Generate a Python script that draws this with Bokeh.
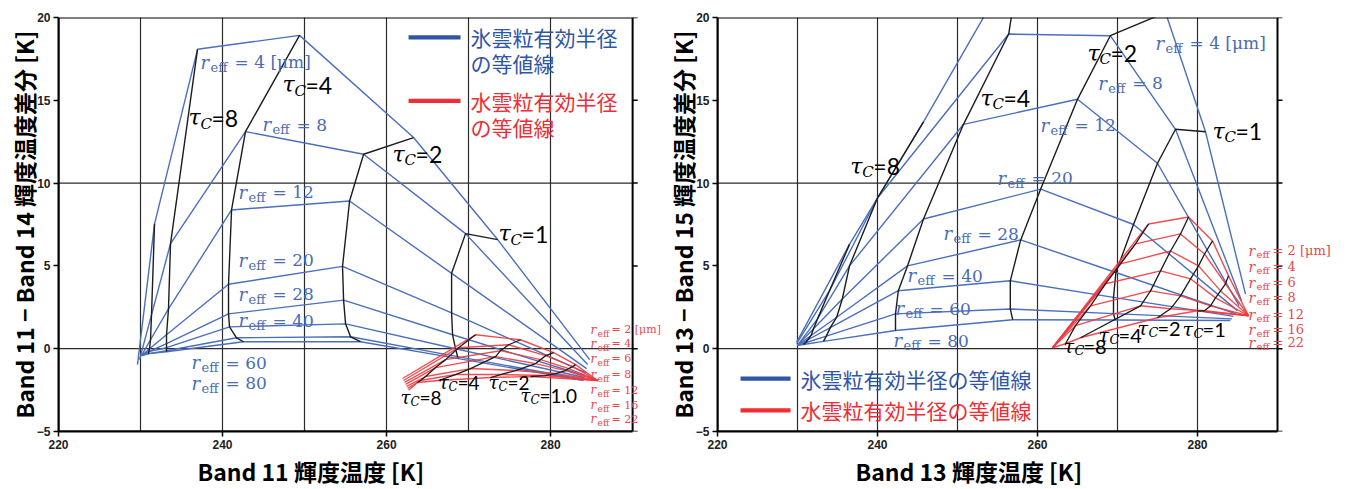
from bokeh.plotting import figure
from bokeh.layouts import row
from bokeh.models import (Range1d, FixedTicker, LabelSet, ColumnDataSource, BoxAnnotation, Label,
                          Title)
from bokeh.core.properties import value
from bokeh.embed import file_html
from bokeh.resources import INLINE

BLUE = "#4a6fbd"
BLUE_TXT = "#4a6cb5"
RED = "#ee3a3f"
RED_TXT = "#e8474c"
BLACK = "#1c1c1c"

X_TICKS = [220, 240, 260, 280]
Y_TICKS = [-5, 0, 5, 10, 15, 20]
X_GRID = [230, 240, 250, 260, 270, 280]
Y_GRID = [0, 10]
X_MIN, X_MAX, Y_MIN, Y_MAX = 220, 290, -5, 20

# Lookup-table nodes: opaque limit, tau_C = 16, 8, 4, 2, 1, clear-sky limit
ICE_R = [4, 8, 12, 20, 28, 40, 60, 80]
ICE_TAU_COLS = [1, 2, 3, 4, 5]          # columns drawn as tau_C isolines

# Band 11 vs Band 11 - Band 14 (ice)
b11_ice_x = {
    4:  [229.63, 231.71, 236.95, 249.39, 263.29, 273.54, 284.76],
    8:  [229.88, 231.34, 233.66, 242.80, 257.20, 269.63, 284.51],
    12: [230.12, 231.22, 233.41, 241.10, 255.49, 267.93, 284.39],
    20: [230.12, 231.10, 233.17, 240.73, 254.63, 267.93, 284.27],
    28: [230.12, 231.00, 233.17, 240.73, 254.76, 268.05, 284.15],
    40: [230.12, 231.00, 233.17, 240.85, 255.00, 268.41, 284.15],
    60: [230.12, 231.00, 233.17, 241.71, 255.61, 268.66, 284.02],
    80: [230.12, 231.00, 233.17, 242.56, 256.83, 268.78, 284.02],
}
b11_ice_y = {
    4:  [-0.96, 7.54, 18.08, 18.92, 12.75, 6.59, -0.66],
    8:  [-0.66, 2.04, 6.35, 13.11, 11.74, 6.95, -0.96],
    12: [-0.42, 0.54, 2.40, 8.38, 8.92, 4.55, -1.20],
    20: [-0.42, 0.00, 0.84, 3.89, 4.97, 2.16, -1.44],
    28: [-0.42, -0.18, 0.30, 2.10, 2.93, 0.84, -1.62],
    40: [-0.42, -0.18, 0.06, 1.32, 1.50, 0.00, -1.74],
    60: [-0.42, -0.30, -0.12, 0.66, 0.72, -0.48, -1.86],
    80: [-0.42, -0.30, -0.18, 0.42, 0.42, -0.60, -1.92],
}

# Band 13 vs Band 13 - Band 15 (ice); some nodes lie above the 20 K frame
b13_ice_x = {
    4:  [229.9, 236.5, 245.75, 258.0, 276.0, 281.0, 286.0],
    8:  [229.9, 234.0, 240.0, 256.4, 269.1, 277.25, 285.5],
    12: [230.0, 232.5, 236.5, 250.75, 265.0, 275.0, 285.2],
    20: [230.0, 232.0, 235.6, 245.75, 260.4, 272.0, 285.0],
    28: [230.0, 231.7, 234.9, 243.75, 257.9, 269.8, 284.8],
    40: [230.0, 231.3, 234.1, 242.6, 256.6, 269.5, 284.5],
    60: [230.0, 231.0, 233.6, 242.25, 256.6, 269.5, 284.3],
    80: [230.0, 230.75, 233.25, 242.25, 256.9, 269.7, 284.1],
}
b13_ice_y = {
    4:  [0.4, 6.3, 13.7, 24.0, 20.3, 13.1, 3.3],
    8:  [0.3, 3.5, 9.1, 19.0, 18.9, 13.25, 2.9],
    12: [0.2, 1.8, 5.0, 13.55, 15.06, 11.2, 2.6],
    20: [0.2, 1.2, 3.0, 7.83, 9.64, 7.5, 2.3],
    28: [0.2, 0.8, 1.9, 5.0, 6.57, 4.6, 2.1],
    40: [0.2, 0.54, 1.27, 3.5, 4.1, 3.1, 1.95],
    60: [0.2, 0.36, 0.76, 2.1, 2.4, 2.12, 1.8],
    80: [0.2, 0.25, 0.44, 1.1, 1.75, 1.73, 1.7],
}

# Water nodes: opaque limit, tau_C = 8, 4, 2, 1, clear-sky limit
WATER_R = [2, 4, 6, 8, 12, 16, 22]
WATER_TAU_COLS = [1, 2, 3, 4]

b11_wat_x = {
    2:  [261.95, 270.85, 276.34, 280.37, 283.05, 285.73],
    4:  [262.07, 268.78, 274.88, 279.39, 282.68, 285.73],
    6:  [262.20, 267.20, 273.90, 278.78, 282.20, 285.73],
    8:  [262.32, 265.98, 273.29, 278.17, 281.83, 285.73],
    12: [262.44, 264.76, 270.24, 275.73, 280.61, 285.73],
    16: [262.56, 264.15, 268.41, 273.90, 279.39, 285.73],
    22: [262.68, 263.78, 266.34, 272.68, 277.56, 285.73],
}
b11_wat_y = {
    2:  [-1.80, 0.84, 0.54, -0.24, -0.96, -1.92],
    4:  [-1.92, 0.06, 0.24, -0.42, -1.08, -1.92],
    6:  [-2.04, -0.66, -0.12, -0.66, -1.20, -1.92],
    8:  [-2.16, -1.14, -0.48, -0.90, -1.32, -1.92],
    12: [-2.28, -1.68, -1.20, -1.32, -1.50, -1.92],
    16: [-2.40, -1.92, -1.56, -1.56, -1.62, -1.92],
    22: [-2.51, -2.04, -1.92, -1.74, -1.68, -1.92],
}

b13_wat_x = {
    2:  [261.88, 273.88, 278.88, 281.88, 283.88, 286.38],
    4:  [261.88, 272.25, 277.88, 280.88, 283.50, 286.38],
    6:  [261.88, 270.38, 276.63, 280.13, 282.88, 286.38],
    8:  [261.88, 268.50, 275.38, 279.13, 282.25, 286.38],
    12: [261.88, 266.63, 274.13, 277.88, 281.63, 286.38],
    16: [261.88, 264.75, 272.88, 276.63, 280.88, 286.38],
    22: [261.88, 263.50, 265.38, 275.00, 280.00, 286.38],
}
b13_wat_y = {
    2:  [0.06, 7.53, 7.95, 6.51, 4.40, 1.99],
    4:  [0.06, 6.33, 6.93, 5.72, 3.92, 1.99],
    6:  [0.06, 5.12, 5.90, 5.00, 3.49, 1.99],
    8:  [0.06, 3.92, 4.70, 4.22, 3.07, 1.99],
    12: [0.06, 2.59, 3.49, 3.19, 2.59, 1.99],
    16: [0.06, 1.39, 2.59, 2.41, 2.29, 1.99],
    22: [0.06, 0.30, 0.66, 1.87, 2.29, 1.99],
}

# Annotation texts
ICE_LABEL_TEXT = ["= 4 [μm]", "= 8", "= 12", "= 20", "= 28", "= 40", "= 60", "= 80"]
WATER_LABEL_TEXT = ["= 2 [μm]", "= 4", "= 6", "= 8", "= 12", "= 16", "= 22"]
TAU_ICE_TEXT = ["=8", "=4", "=2", "=1"]
TAU_WAT_TEXT_B11 = ["=8", "=4", "=2", "=1.0"]
TAU_WAT_TEXT_B13 = ["=8", "=4", "=2", "=1"]
LEGEND_ICE = "氷雲粒有効半径"
LEGEND_WAT = "水雲粒有効半径"
LEGEND_TAIL = "の等値線"

# label anchor positions (data units)
b11_ice_lab_x = [237.32, 244.88, 241.95, 241.95, 241.95, 241.95, 236.22, 236.22]
b11_ice_lab_y = [17.31, 13.53, 9.46, 5.33, 3.29, 1.68, -0.84, -2.10]
b11_tau_lab_x = [235.85, 247.3, 260.73, 273.66]
b11_tau_lab_y = [13.95, 15.93, 11.74, 6.95]
b11_wat_lab_x = [284.88] * 7
b11_wat_lab_y = [1.14, 0.30, -0.60, -1.56, -2.51, -3.41, -4.25]
b11_wtau_lab_x = [261.7, 266.34, 272.44, 276.34]
b11_wtau_lab_y = [-2.93, -2.04, -2.04, -2.81]

b13_ice_lab_x = [274.75, 267.6, 260.38, 255.0, 248.25, 243.75, 242.25, 242.0]
b13_ice_lab_y = [18.43, 16.02, 13.49, 10.3, 6.93, 4.4, 2.41, 0.48]
b13_tau_lab_x = [236.6, 252.88, 266.25, 281.88]
b13_tau_lab_y = [11.02, 15.12, 17.83, 13.13]
b13_wat_lab_x = [286.38] * 7
b13_wat_lab_y = [5.90, 4.94, 3.98, 3.07, 2.05, 1.14, 0.36]
b13_wtau_lab_x = [263.25, 267.63, 272.5, 278.13]
b13_wtau_lab_y = [0.18, 0.84, 1.27, 1.20]


def math_labels(p, xs, ys, texts, sym, sub, color, sym_size, sub_size, main_size,
                sym_font, main_font, sub_dx, main_dx, sub_dy, sub_italic):
    n = len(xs)
    common = dict(text_color=color, text_baseline="middle", text_align="left")
    s1 = ColumnDataSource(dict(x=xs, y=ys, t=[sym] * n))
    s2 = ColumnDataSource(dict(x=xs, y=ys, t=[sub] * n))
    s3 = ColumnDataSource(dict(x=xs, y=ys, t=texts))
    p.add_layout(LabelSet(x="x", y="y", text="t", source=s1, text_font=value(sym_font),
                          text_font_style="italic", text_font_size=f"{sym_size}px", **common))
    p.add_layout(LabelSet(x="x", y="y", text="t", source=s2, text_font=value(sym_font),
                          text_font_style="italic" if sub_italic else "normal",
                          text_font_size=f"{sub_size}px", x_offset=sub_dx, y_offset=-sub_dy, **common))
    p.add_layout(LabelSet(x="x", y="y", text="t", source=s3, text_font=value(main_font),
                          text_font_size=f"{main_size}px", x_offset=main_dx, **common))


def make_panel(ice_x, ice_y, wat_x, wat_y, x_end, fw, fh, bl, br, bt, bb,
               xlabel, ylabel, xl_offset):
    # the frame runs a little past 290 K so that the labels at the right edge stay visible;
    # the 220-290 K box itself is drawn as an outline annotation
    p = figure(frame_width=fw, frame_height=fh, x_range=Range1d(X_MIN, x_end),
               y_range=Range1d(Y_MIN, Y_MAX), output_backend="svg", toolbar_location=None,
               title=None, min_border_left=bl, min_border_right=br, min_border_top=bt,
               min_border_bottom=bb)
    p.background_fill_color = "white"
    p.border_fill_color = "white"
    p.outline_line_color = None
    p.xaxis.ticker = FixedTicker(ticks=X_TICKS)
    p.yaxis.ticker = FixedTicker(ticks=Y_TICKS)
    p.xaxis.bounds = (X_MIN, X_MAX)
    p.yaxis.bounds = (Y_MIN, Y_MAX)
    p.yaxis.major_label_overrides = {-5: "−5"}
    p.xgrid.ticker = FixedTicker(ticks=X_GRID)
    p.xgrid.grid_line_color = "#2b2b2b"
    p.xgrid.grid_line_width = 1.2
    p.ygrid.grid_line_color = None
    for ax in (p.xaxis, p.yaxis):
        ax.axis_line_width = 2
        ax.axis_line_color = "black"
        ax.major_tick_line_color = "black"
        ax.major_tick_line_width = 1.5
        ax.major_tick_in = 0
        ax.major_tick_out = 5
        ax.minor_tick_line_color = None
        ax.major_label_text_font = "Liberation Sans"
        ax.major_label_text_font_style = "bold"
        ax.major_label_text_font_size = "12px"
        ax.major_label_text_color = "#222222"
    p.xaxis.major_label_standoff = 3
    p.yaxis.major_label_standoff = 3
    p.yaxis.axis_label = ylabel
    p.yaxis.axis_label_text_font = "Noto Sans CJK JP"
    p.yaxis.axis_label_text_font_style = "bold"
    p.yaxis.axis_label_text_font_size = "23px"
    p.yaxis.axis_label_text_color = "black"
    p.yaxis.axis_label_standoff = -7
    p.add_layout(Title(text=xlabel, align="left", offset=xl_offset, standoff=0,
                       text_font="Noto Sans CJK JP", text_font_style="bold",
                       text_font_size="23px", text_color="black"), "below")

    # horizontal grid lines and right-edge ticks, limited to the 220-290 K box
    p.segment(x0=[X_MIN] * len(Y_GRID), x1=[X_MAX] * len(Y_GRID), y0=Y_GRID, y1=Y_GRID,
              line_color="#2b2b2b", line_width=1.2)
    p.segment(x0=[X_MAX] * len(Y_TICKS), x1=[X_MAX + 0.62] * len(Y_TICKS), y0=Y_TICKS,
              y1=Y_TICKS, line_color="black", line_width=1.5)

    # ice: r_eff isolines (blue) and tau_C isolines (black)
    for r in ICE_R:
        p.line(ice_x[r], ice_y[r], line_color=BLUE, line_width=1.4)
    for j in ICE_TAU_COLS:
        p.line([ice_x[r][j] for r in ICE_R], [ice_y[r][j] for r in ICE_R],
               line_color=BLACK, line_width=1.4)
    # water: r_eff isolines (red) and tau_C isolines (black)
    for r in WATER_R:
        p.line(wat_x[r], wat_y[r], line_color=RED, line_width=1.4, line_alpha=0.9)
    for j in WATER_TAU_COLS:
        p.line([wat_x[r][j] for r in WATER_R], [wat_y[r][j] for r in WATER_R],
               line_color=BLACK, line_width=1.3)

    p.add_layout(BoxAnnotation(left=X_MIN, right=X_MAX, bottom=Y_MIN, top=Y_MAX,
                               fill_alpha=0, line_color="black", line_alpha=1, line_width=2))
    return p


left = make_panel(b11_ice_x, b11_ice_y, b11_wat_x, b11_wat_y, 293.4, 602, 414, 58, 2, 17, 58,
                  "Band 11 輝度温度 [K]", "Band 11 − Band 14 輝度温度差分 [K]", 139)
right = make_panel(b13_ice_x, b13_ice_y, b13_wat_x, b13_wat_y, 298, 624, 414, 55, 5, 17, 58,
                   "Band 13 輝度温度 [K]", "Band 13 − Band 15 輝度温度差分 [K]", 138)

SERIF = "DejaVu Serif"
SANS = "Lato"

# left panel annotations
math_labels(left, b11_ice_lab_x, b11_ice_lab_y, ICE_LABEL_TEXT, "r", "eff", BLUE_TXT,
            18, 13, 17, SERIF, SERIF, 10, 34, 5, False)
math_labels(left, b11_tau_lab_x, b11_tau_lab_y, TAU_ICE_TEXT, "τ", "C", "black",
            22, 15, 23, SERIF, SANS, 12, 23, 6, True)
math_labels(left, b11_wat_lab_x, b11_wat_lab_y, WATER_LABEL_TEXT, "r", "eff", RED_TXT,
            12, 9, 11, SERIF, SERIF, 7, 21, 4, False)
math_labels(left, b11_wtau_lab_x, b11_wtau_lab_y, TAU_WAT_TEXT_B11, "τ", "C", "black",
            18, 12, 19, SERIF, SANS, 10, 19, 5, True)

# right panel annotations
math_labels(right, b13_ice_lab_x, b13_ice_lab_y, ICE_LABEL_TEXT, "r", "eff", BLUE_TXT,
            18, 13, 17, SERIF, SERIF, 10, 34, 5, False)
math_labels(right, b13_tau_lab_x, b13_tau_lab_y, TAU_ICE_TEXT, "τ", "C", "black",
            22, 15, 23, SERIF, SANS, 12, 23, 6, True)
math_labels(right, b13_wat_lab_x, b13_wat_lab_y, WATER_LABEL_TEXT, "r", "eff", RED_TXT,
            14, 10, 13, SERIF, SERIF, 8, 24, 4, False)
math_labels(right, b13_wtau_lab_x, b13_wtau_lab_y, TAU_WAT_TEXT_B13, "τ", "C", "black",
            19, 13, 20, SERIF, SANS, 11, 20, 5, True)


def legend_entry(p, x0, x1, y, dy, color, lines, tx):
    p.add_layout(BoxAnnotation(left=x0, right=x1, bottom=y - dy, top=y + dy,
                               fill_color=color, fill_alpha=1, line_color=None))
    for txt, ty in lines:
        p.add_layout(Label(x=tx, y=ty, text=txt, text_color=color, text_font="Noto Sans CJK JP",
                           text_font_size="21px", text_baseline="middle"))


legend_entry(left, 262.68, 269.02, 18.8, 0.13, "#2f55a8",
             [(LEGEND_ICE, 18.8), (LEGEND_TAIL, 17.25)], 270.24)
legend_entry(left, 262.68, 269.02, 14.97, 0.13, "#ee2d34",
             [(LEGEND_WAT, 14.97), (LEGEND_TAIL, 13.41)], 270.24)
legend_entry(right, 222.88, 229.13, -1.81, 0.13, "#2f55a8",
             [(LEGEND_ICE + LEGEND_TAIL, -1.81)], 230.38)
legend_entry(right, 222.88, 229.13, -3.73, 0.13, "#ee2d34",
             [(LEGEND_WAT + LEGEND_TAIL, -3.73)], 230.38)

layout = row(left, right)
open("out.html", "w").write(file_html(layout, INLINE))
